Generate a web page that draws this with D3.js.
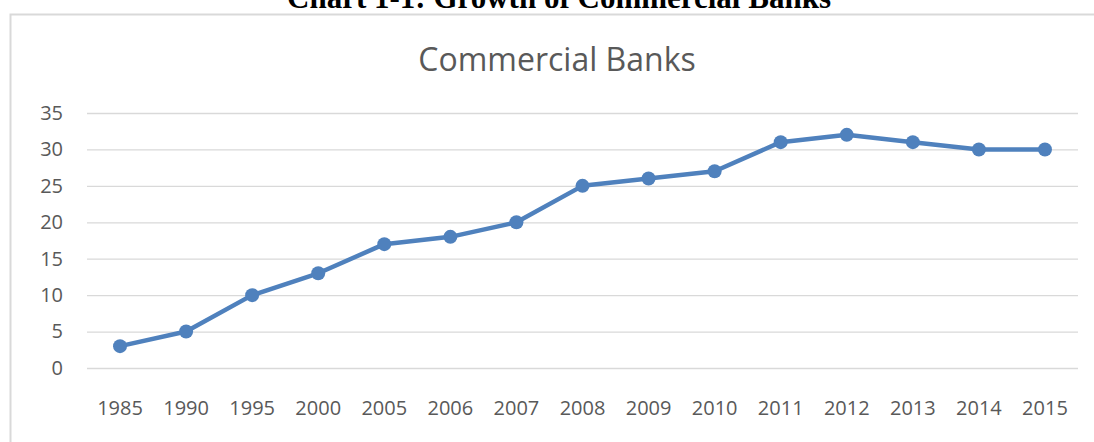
<!DOCTYPE html>
<html>
<head>
<meta charset="utf-8">
<script src="https://cdn.jsdelivr.net/npm/d3@7"></script>
<style>
  html, body { margin: 0; padding: 0; background: #fff; }
  svg { display: block; }
</style>
</head>
<body>
<svg id="chart" width="1094" height="442"></svg>
<script>
// Number of commercial banks by year
const years = ["1985","1990","1995","2000","2005","2006","2007","2008","2009","2010","2011","2012","2013","2014","2015"];
const banks = [3, 5, 10, 13, 17, 18, 20, 25, 26, 27, 31, 32, 31, 30, 30];
const yTicks = [0, 5, 10, 15, 20, 25, 30, 35];
const pageTitle = "Chart 1-1: Growth of Commercial Banks";
const chartTitle = "Commercial Banks";

const svg = d3.select("#chart");
const W = 1094, H = 442;
const margin = { left: 87, right: 16, top: 113, bottom: 74 };

// Caption above the chart box (its upper part runs off the top edge)
svg.append("text")
  .attr("x", 559).attr("y", 8)
  .attr("text-anchor", "middle")
  .attr("font-family", "Liberation Serif, Times New Roman, serif")
  .attr("font-weight", "bold")
  .attr("font-size", 31)
  .attr("fill", "#000")
  .text(pageTitle);

// Chart area frame
svg.append("rect")
  .attr("x", 10.5).attr("y", 14.5)
  .attr("width", W).attr("height", H)
  .attr("fill", "#fff")
  .attr("stroke", "#d9d9d9")
  .attr("stroke-width", 2);

const x = d3.scaleBand()
  .domain(years)
  .range([margin.left, W - margin.right])
  .padding(0);

const y = d3.scaleLinear()
  .domain([0, 35])
  .range([H - margin.bottom, margin.top]);

// Gridlines and value labels
const yAxis = d3.axisLeft(y).tickValues(yTicks)
  .tickSize(-(W - margin.right - margin.left))
  .tickPadding(24)
  .tickFormat(d3.format("d"));

const gy = svg.append("g")
  .attr("transform", `translate(${margin.left},0)`)
  .call(yAxis);
gy.select(".domain").remove();
gy.selectAll(".tick line").attr("stroke", "#d9d9d9").attr("stroke-width", 1.3);
gy.selectAll(".tick text")
  .attr("font-family", "Open Sans, sans-serif")
  .attr("font-size", 20)
  .attr("fill", "#595959");

// Category axis
const xAxis = d3.axisBottom(x).tickSize(0).tickPadding(33);
const gx = svg.append("g")
  .attr("transform", `translate(0,${y(0)})`)
  .call(xAxis);
gx.select(".domain").remove();
gx.selectAll(".tick text")
  .attr("font-family", "Open Sans, sans-serif")
  .attr("font-size", 20)
  .attr("fill", "#595959");

// Chart title
svg.append("text")
  .attr("x", 557).attr("y", 71)
  .attr("text-anchor", "middle")
  .attr("font-family", "Open Sans, sans-serif")
  .attr("font-size", 32)
  .attr("fill", "#595959")
  .text(chartTitle);

// Series line with markers
const cx = d => x(d) + x.bandwidth() / 2;
const line = d3.line()
  .x((d, i) => cx(years[i]))
  .y(d => y(d));

svg.append("path")
  .datum(banks)
  .attr("d", line)
  .attr("fill", "none")
  .attr("stroke", "#4f81bd")
  .attr("stroke-width", 4.5)
  .attr("stroke-linejoin", "round");

svg.selectAll("circle.pt")
  .data(banks)
  .join("circle")
  .attr("class", "pt")
  .attr("cx", (d, i) => cx(years[i]))
  .attr("cy", d => y(d))
  .attr("r", 7)
  .attr("fill", "#4f81bd");
</script>
</body>
</html>
